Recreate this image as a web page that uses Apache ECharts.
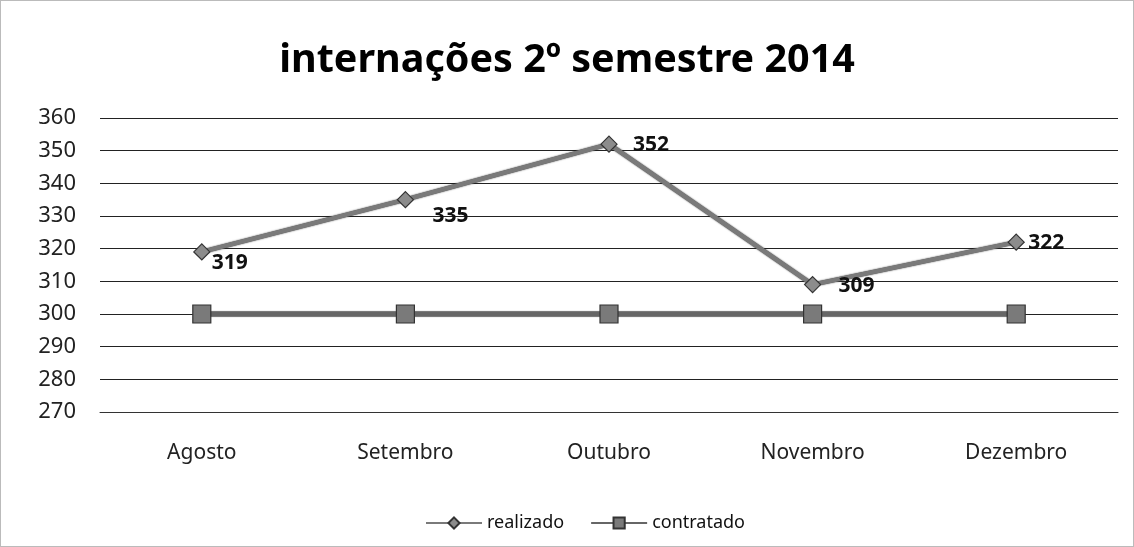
<!DOCTYPE html>
<html><head><meta charset="utf-8">
<script src="https://cdn.jsdelivr.net/npm/echarts@6/dist/echarts.min.js"></script>
<style>html,body{margin:0;padding:0;background:#fff}#c{width:1134px;height:547px;box-sizing:border-box;border:1px solid #bbb}</style>
</head><body><div id="c"></div>
<script>
const categories = ['Agosto','Setembro','Outubro','Novembro','Dezembro'];
const realizado = [319,335,352,309,322];
const contratado = [300,300,300,300,300];
const yTicks = {min:270, max:360, interval:10};
const labelPos = [[28,11],[45,16],[42,1],[44,1],[30,1]];

const chart = echarts.init(document.getElementById('c'));
const font = "'Noto Sans', 'DejaVu Sans', sans-serif";
chart.setOption({
  animation:false,
  title:{text:'internações 2º semestre 2014',left:'center',top:35,textStyle:{fontFamily:font,fontSize:39.5,fontWeight:'bold',color:'#000'}},
  grid:{left:99,right:15,top:117,bottom:134,containLabel:false},
  legend:{top:508,left:419,itemWidth:56,itemHeight:14,itemGap:26,textStyle:{fontFamily:font,fontSize:18,color:'#111'},
    data:['realizado','contratado']},
  xAxis:{type:'category',data:categories,boundaryGap:true,
    axisLine:{show:true,lineStyle:{color:'#333',width:1}},axisTick:{show:false},
    axisLabel:{fontFamily:font,fontSize:21,color:'#222',margin:31}},
  yAxis:{type:'value',min:yTicks.min,max:yTicks.max,interval:yTicks.interval,
    axisLine:{show:false},axisTick:{show:false},
    axisLabel:{fontFamily:font,fontSize:22,color:'#222',margin:24},
    splitLine:{lineStyle:{color:'#222',width:1.2}}},
  series:[
    {name:'realizado',type:'line',data:realizado.map((v,i)=>({value:v,label:{offset:labelPos[i]}})),
      symbol:'diamond',symbolSize:16,
      lineStyle:{color:'#7a7a7a',width:4.5,shadowColor:'#222',shadowBlur:1.5},
      itemStyle:{color:'#8c8c8c',borderColor:'#333',borderWidth:1.2},
      label:{show:true,position:'inside',fontFamily:font,fontSize:21,fontWeight:'bold',color:'#111'}},
    {name:'contratado',type:'line',data:contratado,
      symbol:'rect',symbolSize:18,
      lineStyle:{color:'#666',width:5,shadowColor:'#222',shadowBlur:1},
      itemStyle:{color:'#7a7a7a',borderColor:'#333',borderWidth:1.2}}
  ]
});
</script></body></html>
